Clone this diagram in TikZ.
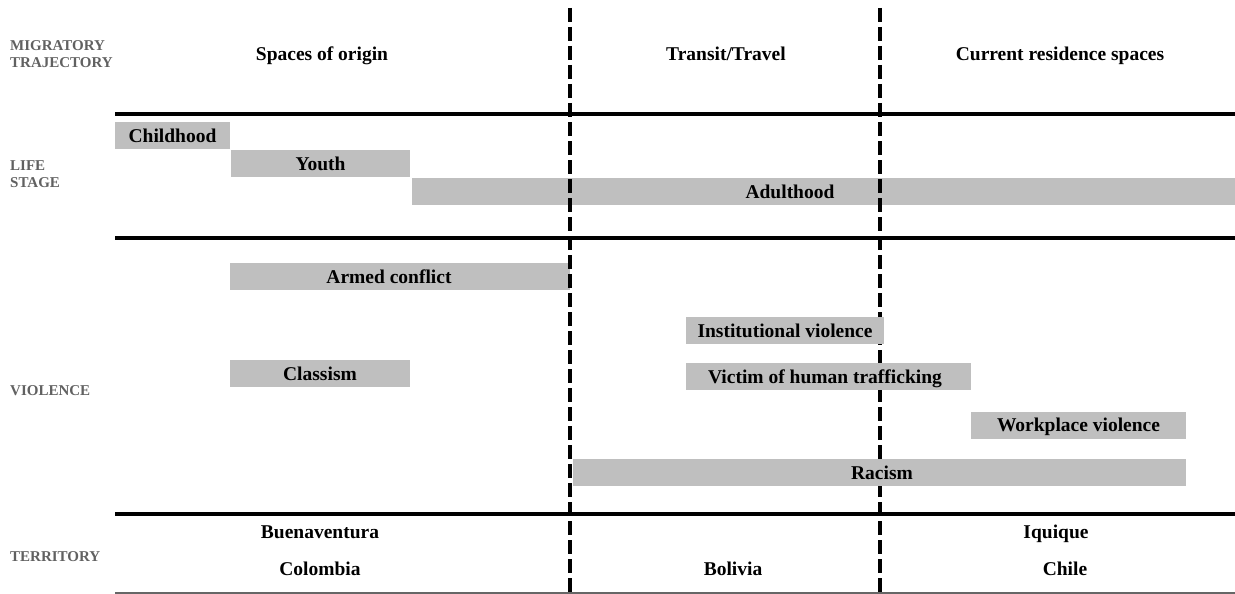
\documentclass[tikz,border=0pt]{standalone}
\usepackage{fontspec}
\setmainfont{Liberation Serif}
\begin{document}
\begin{tikzpicture}[x=1pt,y=-1pt,
  bar/.style={fill=black!25, draw=none, minimum height=27pt, inner sep=0pt, outer sep=0pt, text height=13.6pt, text depth=0pt, font=\fontsize{19.5}{20}\selectfont\bfseries},
  lbl/.style={inner sep=0pt, text height=13.6pt, text depth=0pt, font=\fontsize{19.5}{20}\selectfont\bfseries},
  side/.style={inner sep=0pt, anchor=west, text=black!62, font=\fontsize{15}{17}\selectfont\bfseries, align=left},
  hline/.style={line width=3.2pt},
  vdash/.style={line width=3.2pt, dash pattern=on 14pt off 5pt}]
\useasboundingbox (0,0) rectangle (1235,594);

% coordinates for lines
\coordinate (h1a) at (115,114); \coordinate (h1b) at (1235,114);
\coordinate (h2a) at (115,238); \coordinate (h2b) at (1235,238);
\coordinate (h3a) at (115,514); \coordinate (h3b) at (1235,514);
\coordinate (h4a) at (115,593); \coordinate (h4b) at (1235,593);
\coordinate (v1a) at (570,8); \coordinate (v1b) at (570,594);
\coordinate (v2a) at (880,8); \coordinate (v2b) at (880,594);

% side labels
\node[side] (mig) at (10,54.5) {MIGRATORY\\TRAJECTORY};
\node[side] (life) at (10,174) {LIFE\\STAGE};
\node[side] (viol) at (10,391) {VIOLENCE};
\node[side] (terr) at (10,557) {TERRITORY};

% column headers
\node[lbl] (origin) at (322,53.7) {Spaces of origin};
\node[lbl] (transit) at (726,53.7) {Transit/Travel};
\node[lbl] (current) at (1060,53.7) {Current residence spaces};

% horizontal lines
\draw[hline] (h1a) -- (h1b);
\draw[hline] (h2a) -- (h2b);
\draw[hline] (h3a) -- (h3b);
\draw[line width=1.3pt, black!60] (h4a) -- (h4b);

% life stage bars
\node[bar, minimum width=115pt] (child) at (172.5,135.5) {Childhood};
\node[bar, minimum width=179pt] (youth) at (320.5,163.5) {Youth};
\node[bar, minimum width=823pt] (adult) at (823.5,191.5) {};

% violence bars (below dashes)
\node[bar, minimum width=340pt] (armed) at (400,276.5) {};
\node[bar, minimum width=180pt] (class) at (320,373.5) {Classism};
\node[bar, minimum width=215pt] (work) at (1078.5,425) {Workplace violence};

% dashed separators
\draw[vdash] (v1a) -- (v1b);
\draw[vdash] (v2a) -- (v2b);

% labels over the dashes
\node[lbl] (adultT) at (790,191.5) {Adulthood};
\node[lbl] (armedT) at (389,276.5) {Armed conflict};

% bars covering the dashes
\node[bar, minimum width=613pt] (racism) at (879.5,472.5) {};
\node[lbl] (racismT) at (882,472.5) {Racism};
\node[bar, minimum width=198pt] (inst) at (785,330.5) {Institutional violence};
\node[bar, minimum width=285pt] (traf) at (828.5,376.5) {};
\node[lbl] (trafT) at (825,376.5) {Victim of human trafficking};

% territory
\node[lbl] (buen) at (320,531.5) {Buenaventura};
\node[lbl] (col) at (320,568.2) {Colombia};
\node[lbl] (bol) at (733,568.2) {Bolivia};
\node[lbl] (iqu) at (1056,531.5) {Iquique};
\node[lbl] (chi) at (1065,568.2) {Chile};
\end{tikzpicture}
\end{document}
